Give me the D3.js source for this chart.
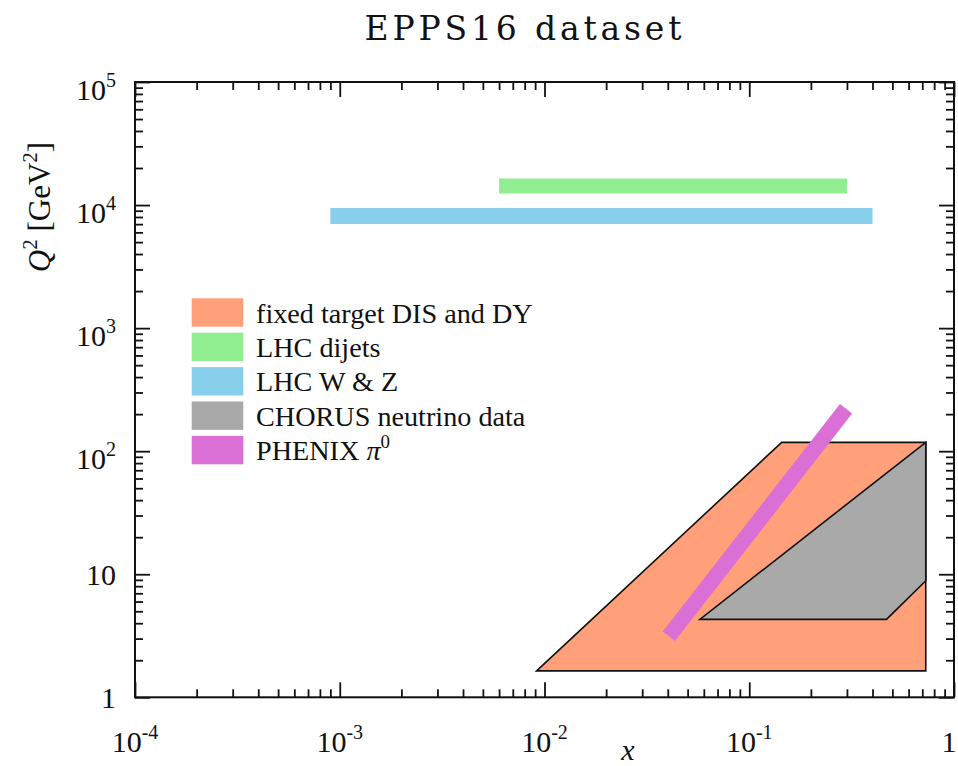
<!DOCTYPE html>
<html><head><meta charset="utf-8">
<script src="https://cdn.jsdelivr.net/npm/d3@7"></script>
<style>body{margin:0;background:#fff} svg{display:block} text{font-family:"Liberation Serif","Times New Roman",serif;fill:#111}</style>
</head><body>
<script>
// ---------- data ----------
const titleText = "EPPS16 dataset";
const xDomain = [1e-4, 1];
const yDomain = [1, 1e5];
const xMajorTicks = [1e-4, 1e-3, 1e-2, 1e-1, 1];
const xTickBase = ["10", "10", "10", "10", "1"];
const xTickSup = ["-4", "-3", "-2", "-1", ""];
const yMajorTicks = [1, 10, 100, 1e3, 1e4, 1e5];
const yTickBase = ["1", "10", "10", "10", "10", "10"];
const yTickSup = ["", "", "2", "3", "4", "5"];

const legendLabels = ["fixed target DIS and DY", "LHC dijets", "LHC W & Z", "CHORUS neutrino data", "PHENIX"];
const legendColors = ["#FFA07A", "#90EE90", "#87CEEB", "#A9A9A9", "#DA70D6"];

const fixedTargetX = [0.00915, 0.144, 0.728, 0.728];
const fixedTargetQ2 = [1.64, 118, 118, 1.64];
const chorusX = [0.0574, 0.468, 0.728, 0.728];
const chorusQ2 = [4.3, 4.3, 8.86, 118];
const dijetX = [0.006, 0.30];
const dijetQ2 = [14300, 14300];
const wzX = [0.0009, 0.40];
const wzQ2 = [8150, 8150];
const phenixX = [0.0405, 0.297];
const phenixQ2 = [3.14, 221];

// ---------- layout ----------
const W = 958, H = 766;
const L = 135, R = 954, T = 82, B = 697.3;
const x = d3.scaleLog().domain(xDomain).range([L, R]);
const y = d3.scaleLog().domain(yDomain).range([B, T]);

const svg = d3.select("body").append("svg").attr("width", W).attr("height", H);

// minor ticks
function minors(domain) {
  const out = [];
  for (let e = Math.round(Math.log10(domain[0])); e < Math.round(Math.log10(domain[1])); e++) {
    for (let k = 2; k <= 9; k++) out.push(k * Math.pow(10, e));
  }
  return out;
}
const xMinor = minors(xDomain), yMinor = minors(yDomain);

// shapes
const line = (xs, ys) => d3.line().x((d, i) => x(xs[i])).y((d, i) => y(ys[i]))(xs);
svg.append("path").attr("d", line(fixedTargetX, fixedTargetQ2) + "Z")
  .attr("fill", legendColors[0]).attr("stroke", "#111").attr("stroke-width", 1.6).attr("stroke-linejoin", "miter");
svg.append("path").attr("d", line(chorusX, chorusQ2) + "Z")
  .attr("fill", legendColors[3]).attr("stroke", "#111").attr("stroke-width", 1.6);
svg.append("path").attr("d", line(phenixX, phenixQ2))
  .attr("fill", "none").attr("stroke", legendColors[4]).attr("stroke-width", 15.5).attr("stroke-linecap", "butt");
svg.append("path").attr("d", line(dijetX, dijetQ2))
  .attr("fill", "none").attr("stroke", legendColors[1]).attr("stroke-width", 15).attr("stroke-linecap", "butt");
svg.append("path").attr("d", line(wzX, wzQ2))
  .attr("fill", "none").attr("stroke", legendColors[2]).attr("stroke-width", 16).attr("stroke-linecap", "butt");

// axes (ticks inward on all four sides)
function styleAxis(g) {
  g.select(".domain").remove();
  g.selectAll("line").attr("stroke", "#111").attr("stroke-width", 1.8);
}
const axes = [
  [() => d3.axisBottom(x), `translate(0,${B})`, xMajorTicks, xMinor],
  [() => d3.axisTop(x), `translate(0,${T})`, xMajorTicks, xMinor],
  [() => d3.axisLeft(y), `translate(${L},0)`, yMajorTicks, yMinor],
  [() => d3.axisRight(y), `translate(${R},0)`, yMajorTicks, yMinor],
];
axes.forEach(([mk, tr, maj, mn]) => {
  svg.append("g").attr("transform", tr)
    .call(mk().tickValues(maj).tickSize(-15).tickSizeOuter(0).tickFormat(""))
    .call(styleAxis);
  svg.append("g").attr("transform", tr)
    .call(mk().tickValues(mn).tickSize(-8).tickSizeOuter(0).tickFormat(""))
    .call(styleAxis);
});

// frame
svg.append("rect").attr("x", L).attr("y", T).attr("width", R - L).attr("height", B - T)
  .attr("fill", "none").attr("stroke", "#111").attr("stroke-width", 2);

// x tick labels
xMajorTicks.forEach((v, i) => {
  const t = svg.append("text").attr("x", Math.min(x(v), 949)).attr("y", 752).attr("text-anchor", "middle").attr("font-size", 30);
  t.append("tspan").text(xTickBase[i]);
  if (xTickSup[i]) t.append("tspan").attr("font-size", 20).attr("dy", -13).text(xTickSup[i]);
});
// y tick labels
yMajorTicks.forEach((v, i) => {
  const t = svg.append("text").attr("x", 116).attr("y", y(v) + (yTickSup[i] ? 18 : 11))
    .attr("text-anchor", "end").attr("font-size", 30);
  t.append("tspan").text(yTickBase[i]);
  if (yTickSup[i]) t.append("tspan").attr("font-size", 20).attr("dy", -13).text(yTickSup[i]);
});

// title
svg.append("text").attr("x", 523).attr("y", 40).attr("text-anchor", "middle")
  .style("font-family", "'DejaVu Serif', serif")
  .attr("font-size", 33).attr("textLength", 317).attr("lengthAdjust", "spacing").text(titleText);

// axis labels
svg.append("text").attr("x", 628).attr("y", 760).attr("text-anchor", "middle")
  .attr("font-size", 30).attr("font-style", "italic").text("x");
const yl = svg.append("text").attr("transform", "translate(50,207) rotate(-90)")
  .attr("text-anchor", "middle").attr("font-size", 31);
yl.append("tspan").attr("font-style", "italic").text("Q");
yl.append("tspan").attr("font-size", 21).attr("dy", -13).text("2");
yl.append("tspan").attr("dy", 13).text("  [GeV");
yl.append("tspan").attr("font-size", 21).attr("dy", -13).text("2");
yl.append("tspan").attr("dy", 13).text("]");

// legend
legendLabels.forEach((lab, i) => {
  const cy = 312.5 + i * 34.4;
  svg.append("rect").attr("x", 191.7).attr("y", cy - 14.2).attr("width", 51.6).attr("height", 28.4)
    .attr("fill", legendColors[i]);
  const t = svg.append("text").attr("x", 256).attr("y", cy + 10).attr("font-size", 28.2).text(lab);
  if (i === 4) {
    t.append("tspan").text(" ");
    t.append("tspan").attr("font-style", "italic").text("π");
    t.append("tspan").attr("font-size", 19).attr("dy", -12).text("0");
  }
});
</script>
</body></html>
